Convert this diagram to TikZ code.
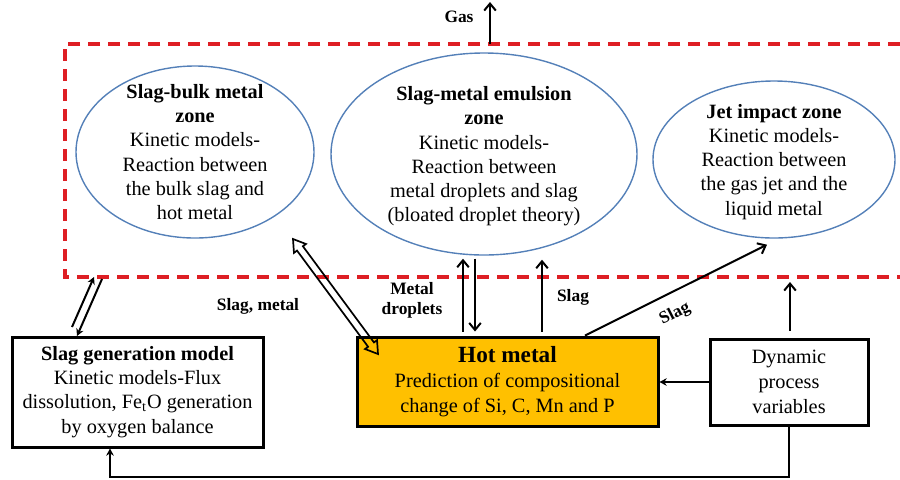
\documentclass[tikz,border=0pt]{standalone}
\usepackage{fontspec}
\setmainfont{Liberation Serif}
\usetikzlibrary{arrows.meta,shapes.geometric,shapes.arrows,calc}
\definecolor{zoneblue}{RGB}{84,128,184}
\definecolor{dashred}{RGB}{222,30,36}
\definecolor{hotfill}{RGB}{255,192,0}
\begin{document}
\begin{tikzpicture}[x=0.5pt,y=-0.5pt,
  every node/.style={font=\fontsize{10.15}{12.1}\selectfont, inner sep=0pt},
  zone/.style={ellipse, draw=zoneblue, line width=0.7pt},
  ztext/.style={align=center},
  box/.style={rectangle, draw=black, line width=1.5pt, align=center},
  arr/.style={line width=1pt, -{Straight Barb[length=3.5pt,width=5.8pt]}},
  sarr/.style={line width=1pt, -{Stealth[length=3.6pt,width=3.8pt]}},
  lbl/.style={font=\fontsize{8.7}{10}\selectfont\bfseries, align=center},
  reddash/.style={draw=dashred, line width=1.7pt, dash pattern=on 6pt off 4pt},
  dblarr/.style={double arrow, draw=black, line width=0.85pt, minimum height=71.5pt,
    minimum width=6.6pt, inner sep=1.4pt, double arrow head extend=1.9pt,
    double arrow tip angle=65}
  ]
\useasboundingbox (0,0) rectangle (900,479);

% dashed region
\coordinate (dtl) at (65,44);
\coordinate (dtr) at (900,44);
\coordinate (dbl) at (65,277);
\coordinate (dbr) at (900,277);
\draw[reddash] (dtr) -- (dtl) -- (dbl) -- (dbr);

% zones
\node[zone, minimum width=119pt, minimum height=86pt] (z1) at (195,152) {};
\node[ztext] (z1t) at (z1.center) {\textbf{Slag-bulk metal}\\\textbf{zone}\\Kinetic models-\\Reaction between\\the bulk slag and\\hot metal};
\node[zone, minimum width=153pt, minimum height=101pt] (z2) at (484,154) {};
\node[ztext] (z2t) at ([yshift=-1.2pt]z2.center) {\textbf{Slag-metal emulsion}\\\textbf{zone}\\Kinetic models-\\Reaction between\\metal droplets and slag\\(bloated droplet theory)};
\node[zone, minimum width=121pt, minimum height=78.5pt] (z3) at (774,159.5) {};
\node[ztext] (z3t) at ([yshift=-1.2pt]z3.center) {\textbf{Jet impact zone}\\Kinetic models-\\Reaction between\\the gas jet and the\\liquid metal};

% boxes
\node[box, minimum width=125.5pt, minimum height=55pt] (sg) at (137.5,392) {\textbf{Slag generation model}\\Kinetic models-Flux\\dissolution, Fe\textsubscript{t}O generation\\by oxygen balance};
\node[box, fill=hotfill, minimum width=150.5pt, minimum height=44.5pt, font=\fontsize{10.15}{12.5}\selectfont] (hot) at (507.5,381.5) {{\fontsize{11.6}{12.5}\selectfont\bfseries Hot metal}\\Prediction of compositional\\change of Si, C, Mn and P};
\node[box, minimum width=79pt, minimum height=43pt, font=\fontsize{10.15}{12.5}\selectfont] (dyn) at (789,382) {Dynamic\\process\\variables};

% gas
\coordinate (gasbase) at (490,44);
\coordinate (gastop) at (490,2);
\draw[arr] (gasbase) -- (gastop);
\node[lbl] (gas) at (459,17) {Gas};

% slag generation <-> region
\coordinate (sgA1) at (72,327);
\coordinate (sgA2) at (94,277);
\coordinate (sgB1) at (102,279);
\coordinate (sgB2) at (77,336);
\draw[sarr] (sgA1) -- (sgA2);
\draw[sarr] (sgB1) -- (sgB2);

% slag, metal double arrow
\node[dblarr, rotate=-53.53] (sm) at (335.5,296.5) {};
\node[lbl] (smlbl) at (258,306) {Slag, metal};

% metal droplets
\draw[arr] ($(hot.north)+(-44.5,-4)$) -- ($(z2.south)+(-21,3)$);
\draw[arr] ($(z2.south)+(-9,3)$) -- ($(hot.north)+(-32.5,-4)$);
\node[lbl] (mdlbl) at (412,300) {Metal\\droplets};

% slag up
\draw[arr] ($(hot.north)+(34.5,-4)$) -- ($(z2.south)+(58,4)$);
\node[lbl] (slag1) at (573,297) {Slag};

% slag diagonal to jet zone
\draw[arr] ($(hot.north)+(77.5,0)$) -- ($(z3.south)+(-7,6)$);
\node[lbl, rotate=27] (slag2) at (675,314) {Slag};

% dynamic up
\coordinate (dynup) at (790,282);
\draw[arr] ($(dyn.north)+(1,-7)$) -- (dynup);

% dynamic -> hot metal
\draw[sarr] (dyn.west) -- (dyn.west -| hot.east);

% bottom feedback
\coordinate (bl) at (110,477);
\draw[sarr] (dyn.south) -- (dyn.south |- bl) -- (bl) -- (bl |- sg.south);
\end{tikzpicture}
\end{document}
